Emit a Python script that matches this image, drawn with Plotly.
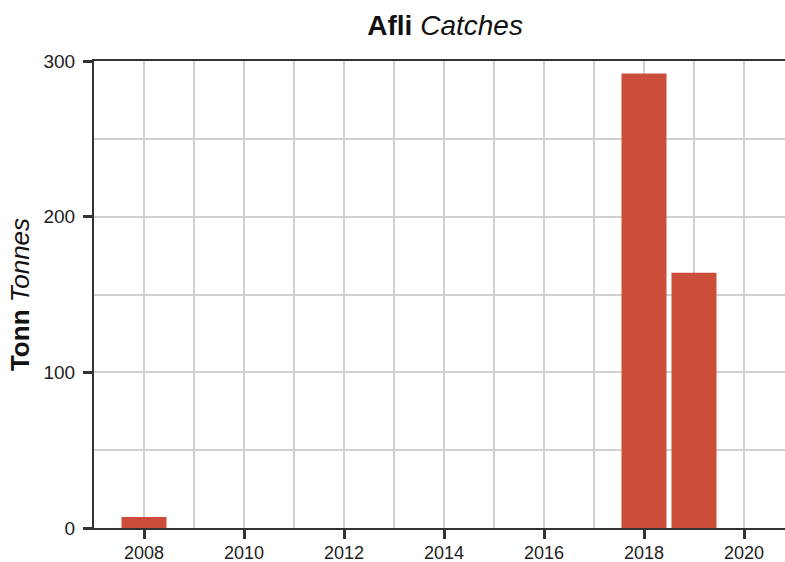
import plotly.graph_objects as go

years = [2008, 2018, 2019]
catches = [7, 292, 164]
x_ticks = [2008, 2010, 2012, 2014, 2016, 2018, 2020]
y_ticks = [0, 100, 200, 300]

bar_color = "#cc4e3a"
font_family = "Liberation Sans, Arial, sans-serif"
grid_color = "#d0d0d0"

fig = go.Figure()
fig.add_trace(go.Bar(
    x=years, y=catches, width=0.9,
    marker=dict(color=bar_color, line=dict(width=0)),
    showlegend=False,
))

fig.update_layout(
    width=785, height=562,
    paper_bgcolor="white", plot_bgcolor="white",
    font=dict(family=font_family, size=18, color="#222"),
    margin=dict(l=94, r=0, t=61, b=34, autoexpand=False),
    title=dict(
        text="<b>Afli</b> <i>Catches</i>",
        x=0.567, xanchor="center", y=1 - 25 / 562, yanchor="middle",
        font=dict(size=28, color="#111"),
    ),
    bargap=0.1,
)

fig.update_xaxes(
    range=[2007, 2020.82],
    tickmode="array", tickvals=x_ticks, ticktext=[str(v) for v in x_ticks],
    ticks="outside", ticklen=9, tickwidth=3, tickcolor="#333",
    ticklabelstandoff=-2,
    showline=True, linecolor="#333", linewidth=2, mirror=True,
    showgrid=True, gridcolor=grid_color, gridwidth=1.5,
    minor=dict(dtick=1, tick0=2007, showgrid=True, gridcolor=grid_color, gridwidth=1.5),
    zeroline=False,
    tickfont=dict(size=18, color="#222"),
)

fig.update_yaxes(
    range=[0, 300],
    tickmode="array", tickvals=y_ticks, ticktext=[str(v) for v in y_ticks],
    ticks="outside", ticklen=9, tickwidth=3, tickcolor="#333",
    ticklabelstandoff=4,
    showline=True, linecolor="#333", linewidth=2,
    showgrid=True, gridcolor=grid_color, gridwidth=1.5,
    minor=dict(dtick=50, tick0=0, showgrid=True, gridcolor=grid_color, gridwidth=1.5),
    zeroline=False,
    title=dict(text="<b>Tonn</b> <i>Tonnes</i>", font=dict(size=26, color="#111"), standoff=6),
    tickfont=dict(size=19, color="#222"),
)

fig.write_html(
    "out.html",
    config={"displayModeBar": False},
    post_script="document.body.style.margin='0';",
)
